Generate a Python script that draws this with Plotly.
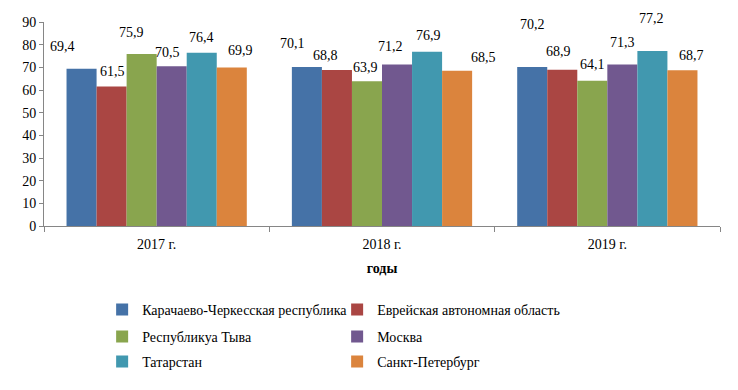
import plotly.graph_objects as go

categories = ["2017 г.", "2018 г.", "2019 г."]
series_names = ["Карачаево-Черкесская республика", "Еврейская автономная область",
                "Республикуа Тыва", "Москва", "Татарстан", "Санкт-Петербург"]
kchr = [69.4, 70.1, 70.2]
eao = [61.5, 68.8, 68.9]
tyva = [75.9, 63.9, 64.1]
moscow = [70.5, 71.2, 71.3]
tatarstan = [76.4, 76.9, 77.2]
spb = [69.9, 68.5, 68.7]
series_values = [kchr, eao, tyva, moscow, tatarstan, spb]
colors = ["#4572A7", "#AA4643", "#89A54E", "#71588F", "#4198AF", "#DB843D"]
legend_ids = ["legend", "legend", "legend2", "legend2", "legend3", "legend3"]

# label nudges (pixels) per series per category, to mimic hand-placed labels
label_dx = [[-19, -14, 0], [1, -11, -4], [-10, -1, 0], [-4, -7, 0], [0, 1, -1], [9, 26, 9]]
label_dy = [[22, 24, 42], [15, 15, 18], [21, 14, 16], [14, 18, 22], [15, 16, 33], [17, 13, 15]]

FONT = "Liberation Serif, serif"
bargap = 0.2
n = len(series_names)

fig = go.Figure()
for i, (name, vals, col) in enumerate(zip(series_names, series_values, colors)):
    fig.add_trace(go.Bar(name=name, x=categories, y=vals, marker_color=col,
                         marker_line_width=0, legend=legend_ids[i]))

annotations = []
bw = (1 - bargap) / n
for i, vals in enumerate(series_values):
    for j, v in enumerate(vals):
        xc = j - (1 - bargap) / 2 + bw * (i + 0.5)
        annotations.append(dict(x=xc, y=v, xref="x", yref="y", text=f"{v:.1f}".replace(".", ","),
                                showarrow=False, xshift=label_dx[i][j], yshift=label_dy[i][j],
                                font=dict(family=FONT, size=14, color="#000")))

leg_common = dict(orientation="h", x=0.086, xanchor="left", yanchor="middle",
                  entrywidth=190, entrywidthmode="pixels", itemwidth=30,
                  font=dict(family=FONT, size=14, color="#000"), traceorder="normal",
                  bgcolor="rgba(0,0,0,0)")

fig.update_layout(
    width=730, height=382,
    margin=dict(l=36, r=18, t=14, b=164, autoexpand=False),
    paper_bgcolor="white", plot_bgcolor="white",
    barmode="group", bargap=bargap, bargroupgap=0,
    font=dict(family=FONT, size=14, color="#000"),
    annotations=annotations,
    xaxis=dict(showline=True, linecolor="#868686", linewidth=1, ticks="outside",
               tickson="boundaries", ticklen=5, tickcolor="#868686", showgrid=False,
               automargin=False, ticklabelstandoff=5,
               title=dict(text="<b>годы</b>", font=dict(family=FONT, size=14), standoff=12),
               tickfont=dict(family=FONT, size=14)),
    yaxis=dict(range=[0, 90], dtick=10, showline=True, linecolor="#868686", linewidth=1,
               ticks="outside", ticklen=4, tickcolor="#868686", showgrid=False, zeroline=False,
               automargin=False, tickfont=dict(family=FONT, size=14)),
    legend=dict(leg_common, y=(226 - 310) / 204),
    legend2=dict(leg_common, y=(226 - 337) / 204),
    legend3=dict(leg_common, y=(226 - 362) / 204),
    showlegend=True,
)

fig.write_html("out.html")
